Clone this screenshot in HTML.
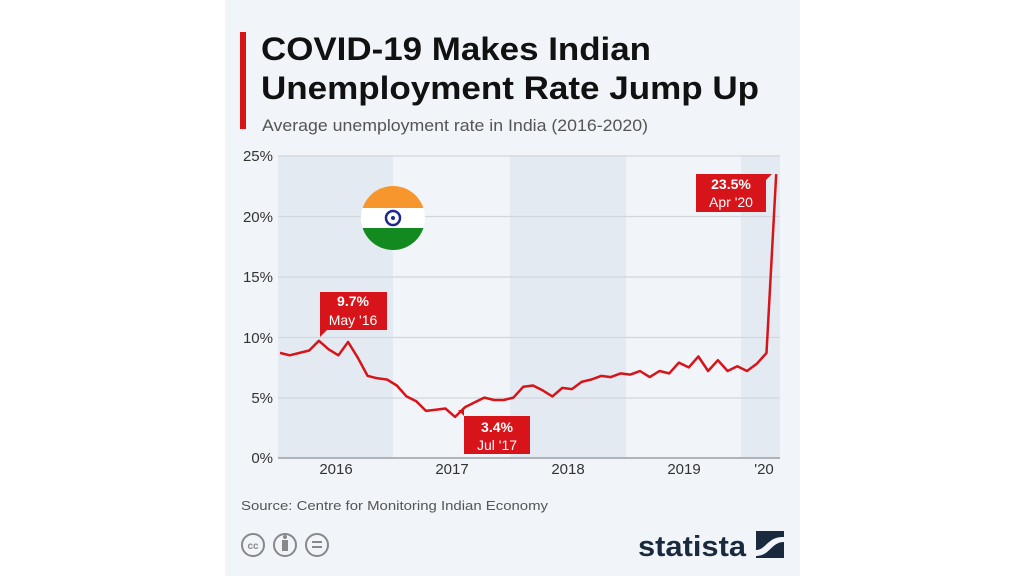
<!DOCTYPE html>
<html><head><meta charset="utf-8"><style>
body{margin:0;width:1024px;height:576px;background:#fff;overflow:hidden;font-family:"Liberation Sans",sans-serif}
</style></head><body>
<svg width="1024" height="576" xmlns="http://www.w3.org/2000/svg" font-family="Liberation Sans, sans-serif">
<defs><clipPath id="c"><circle cx="393" cy="218" r="32"/></clipPath></defs>
<rect x="225" y="0" width="575" height="576" fill="#f1f4f8"/>
<rect x="240" y="32" width="6" height="97" fill="#d7141a"/>
<text x="261" y="60" font-size="32" font-weight="bold" fill="#111" textLength="390" lengthAdjust="spacingAndGlyphs">COVID-19 Makes Indian</text>
<text x="261" y="99" font-size="32" font-weight="bold" fill="#111" textLength="498" lengthAdjust="spacingAndGlyphs">Unemployment Rate Jump Up</text>
<text x="262" y="131" font-size="16.5" fill="#555" textLength="386" lengthAdjust="spacingAndGlyphs">Average unemployment rate in India (2016-2020)</text>
<rect x="278" y="156" width="115" height="302" fill="#e4eaf2"/>
<rect x="510" y="156" width="116" height="302" fill="#e4eaf2"/>
<rect x="741" y="156" width="39" height="302" fill="#e4eaf2"/>
<g stroke="#d2d7de" stroke-width="1.2">
<line x1="278" y1="156" x2="780" y2="156"/><line x1="278" y1="216.5" x2="780" y2="216.5"/>
<line x1="278" y1="277" x2="780" y2="277"/><line x1="278" y1="337.5" x2="780" y2="337.5"/>
<line x1="278" y1="398" x2="780" y2="398"/></g>
<line x1="278" y1="458" x2="780" y2="458" stroke="#9aa0a8" stroke-width="1.5"/>
<g font-size="15" fill="#333" text-anchor="end">
<text x="273" y="161">25%</text><text x="273" y="222">20%</text><text x="273" y="282">15%</text>
<text x="273" y="343">10%</text><text x="273" y="403">5%</text><text x="273" y="463">0%</text></g>
<g font-size="15" fill="#333" text-anchor="middle">
<text x="336" y="474">2016</text><text x="452" y="474">2017</text><text x="568" y="474">2018</text>
<text x="684" y="474">2019</text><text x="764" y="474">'20</text></g>
<g clip-path="url(#c)">
<rect x="361" y="186" width="64" height="64" fill="#fff"/>
<rect x="361" y="186" width="64" height="22" fill="#f7962c"/>
<rect x="361" y="228" width="64" height="22" fill="#138a1f"/>
</g>
<circle cx="393" cy="218" r="7" fill="none" stroke="#1b2a8c" stroke-width="2.5"/>
<circle cx="393" cy="218" r="2" fill="#1b2a8c"/>
<polyline id="ln" fill="none" stroke="#d7141a" stroke-width="2.5" stroke-linejoin="round" points=""/>
<g font-size="14" fill="#fff" font-weight="bold" text-anchor="middle">
<path d="M320,292 h67 v38 h-60 l-7,7 z" fill="#d7141a"/>
<text x="353" y="306">9.7%</text><text x="353" y="325" font-weight="normal">May '16</text>
<path d="M464,416 h66 v38 h-66 z M464,416 l-6,-6 l6,0 z" fill="#d7141a"/>
<text x="497" y="432">3.4%</text><text x="497" y="450" font-weight="normal">Jul '17</text>
<path d="M696,174 h76 l-6,6 v32 h-70 z" fill="#d7141a"/>
<text x="731" y="189">23.5%</text><text x="731" y="207" font-weight="normal">Apr '20</text>
</g>
<text x="241" y="510" font-size="13" fill="#555" textLength="307" lengthAdjust="spacingAndGlyphs">Source: Centre for Monitoring Indian Economy</text>
<g fill="none" stroke="#888" stroke-width="2">
<circle cx="253" cy="545" r="11"/><circle cx="285" cy="545" r="11"/><circle cx="317" cy="545" r="11"/></g>
<text x="253" y="549" font-size="10" fill="#888" text-anchor="middle" font-weight="bold">cc</text>
<rect x="282" y="540" width="6" height="11" fill="#888"/><circle cx="285" cy="537" r="2" fill="#888"/>
<rect x="312" y="541" width="10" height="2" fill="#888"/><rect x="312" y="546" width="10" height="2" fill="#888"/>
<text x="638" y="556" font-size="29" font-weight="bold" fill="#1a2a3e" textLength="108" lengthAdjust="spacingAndGlyphs">statista</text>
<rect x="756" y="531" width="28" height="27" fill="#1a2a3e"/>
<path d="M756,550 C766,550 768,536 784,537 L784,542 C771,542 770,556 756,556 Z" fill="#f1f4f8"/>
</svg>
<script>
var d=[8.7,8.5,8.7,8.9,9.7,9.0,8.5,9.6,8.3,6.8,6.6,6.5,6.0,5.1,4.7,3.9,4.0,4.1,3.4,4.2,4.6,5.0,4.8,4.8,5.0,5.9,6.0,5.6,5.1,5.8,5.7,6.3,6.5,6.8,6.7,7.0,6.9,7.2,6.7,7.2,7.0,7.9,7.5,8.4,7.2,8.1,7.2,7.6,7.2,7.8,8.7,23.5];
var p=d.map(function(v,i){return (280+i*9.73).toFixed(1)+","+(458-12.08*v).toFixed(1)}).join(" ");
document.getElementById("ln").setAttribute("points",p);
</script>
</body></html>
